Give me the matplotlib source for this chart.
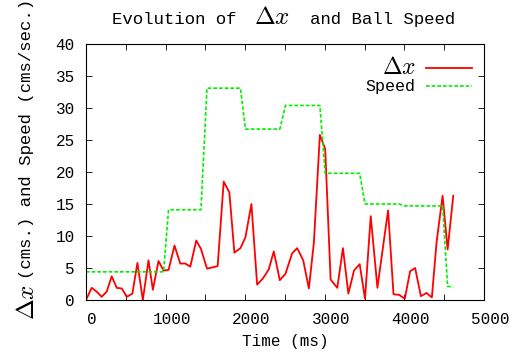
import matplotlib
matplotlib.use("Agg")
import matplotlib.pyplot as plt
from matplotlib.ticker import MultipleLocator
from matplotlib.transforms import ScaledTranslation

MONO = "Liberation Mono"
plt.rcParams.update({
    "font.family": MONO, "font.size": 11.5,
    "mathtext.fontset": "cm",
    "axes.linewidth": 0.8, "xtick.direction": "in", "ytick.direction": "in",
})

# sample times (ms), delta-x (cms) and ball speed (cms/sec)
time_ms = [0, 71, 134, 197, 260, 323, 386, 449, 512, 583, 646, 714, 785, 840,
           911, 974, 1037, 1112, 1184, 1247, 1310, 1385, 1444, 1520, 1590, 1654,
           1730, 1801, 1864, 1940, 2003, 2078, 2150, 2225, 2296, 2359, 2435,
           2506, 2590, 2653, 2729, 2800, 2863, 2938, 3005, 3073, 3157, 3228,
           3296, 3367, 3438, 3505, 3577, 3661, 3728, 3795, 3863, 3934, 4005,
           4072, 4135, 4207, 4278, 4345, 4404, 4480, 4543, 4614]
delta_x = [0.0, 1.9, 1.3, 0.5, 1.3, 3.7, 1.9, 1.8, 0.5, 1.0, 5.8, 0.0, 6.2, 1.6,
           6.1, 4.6, 4.7, 8.5, 5.7, 5.7, 5.2, 9.3, 8.0, 4.9, 5.1, 5.3,
           18.5, 16.8, 7.4, 8.1, 9.8, 15.0, 2.4, 3.4, 4.8, 7.6, 3.1,
           4.1, 7.3, 8.1, 6.2, 1.8, 9.0, 25.8, 23.6, 3.2, 1.9, 8.1,
           1.0, 4.6, 5.6, 0.2, 13.1, 1.9, 8.0, 14.0, 0.9, 0.8, 0.2,
           4.5, 5.0, 0.6, 1.1, 0.4, 9.0, 16.3, 7.9, 16.3]
speed = [4.4, 4.4, 4.4, 4.4, 4.4, 4.4, 4.4, 4.4, 4.4, 4.4, 4.4, 4.4, 4.4, 4.4,
         4.4, 4.4, 14.1, 14.1, 14.1, 14.1, 14.1, 14.1, 14.1, 33.1, 33.1, 33.1,
         33.1, 33.1, 33.1, 33.1, 26.7, 26.7, 26.7, 26.7, 26.7, 26.7, 26.7,
         30.4, 30.4, 30.4, 30.4, 30.4, 30.4, 30.4, 19.8, 19.8, 19.8, 19.8,
         19.8, 19.8, 19.8, 15.0, 15.0, 15.0, 15.0, 15.0, 15.0, 15.0, 14.7,
         14.7, 14.7, 14.7, 14.7, 14.7, 14.7, 14.7, 2.1, 2.1]

W, H = 521, 356
fig = plt.figure(figsize=(W / 100, H / 100), dpi=100)
ax = fig.add_axes([86 / W, 1 - 300 / H, (484 - 86) / W, (300 - 44) / H])

ax.plot(time_ms, delta_x, color="#ff0000", lw=1.3, label=r"$\Delta x\enspace$")
ax.plot(time_ms, speed, color="#00f000", lw=1.2, ls=(0, (2.2, 1.2)), label="Speed")

ax.set_xlim(0, 5000)
ax.set_ylim(0, 40)
ax.xaxis.set_major_locator(MultipleLocator(1000))
ax.xaxis.set_minor_locator(MultipleLocator(500))
ax.yaxis.set_major_locator(MultipleLocator(5))
ax.tick_params(which="both", top=True, right=True, length=4, width=0.6,
               labelsize=11.5)
ax.tick_params(axis="x", pad=9)
ax.tick_params(axis="y", pad=8)
# gnuplot-ish: x labels sit a little right of their ticks
for lab in ax.get_xticklabels():
    lab.set_transform(lab.get_transform()
                      + ScaledTranslation(6 / 100, 0, fig.dpi_scale_trans))

ax.set_xlabel("Time (ms)", fontsize=11.5, labelpad=5)

leg = ax.legend(loc="upper right", frameon=False, markerfirst=False,
                handlelength=2.75, labelspacing=0.05, borderaxespad=0.4,
                borderpad=0.3, handletextpad=0.65,
                prop={"family": MONO, "size": 12})
leg.get_texts()[0].set_fontsize(17)

# title pieces (large delta-x between mono text)
fig.text(237 / W, 1 - 24 / H, "Evolution of", ha="right", va="baseline",
         fontsize=12.5)
fig.text(272 / W, 1 - 24 / H, r"$\Delta x$", ha="center", va="baseline",
         fontsize=18)
fig.text(310 / W, 1 - 24 / H, "and Ball Speed", ha="left", va="baseline",
         fontsize=12.5)

# y label pieces
fig.text(27 / W, 1 - 302 / H, r"$\Delta x$", rotation=90, ha="center",
         va="center", fontsize=18)
fig.text(27 / W, 1 - 279 / H, "(cms.) and Speed (cms/sec.)", rotation=90,
         ha="center", va="bottom", fontsize=12.5)

fig.savefig("out.png", dpi=100)
